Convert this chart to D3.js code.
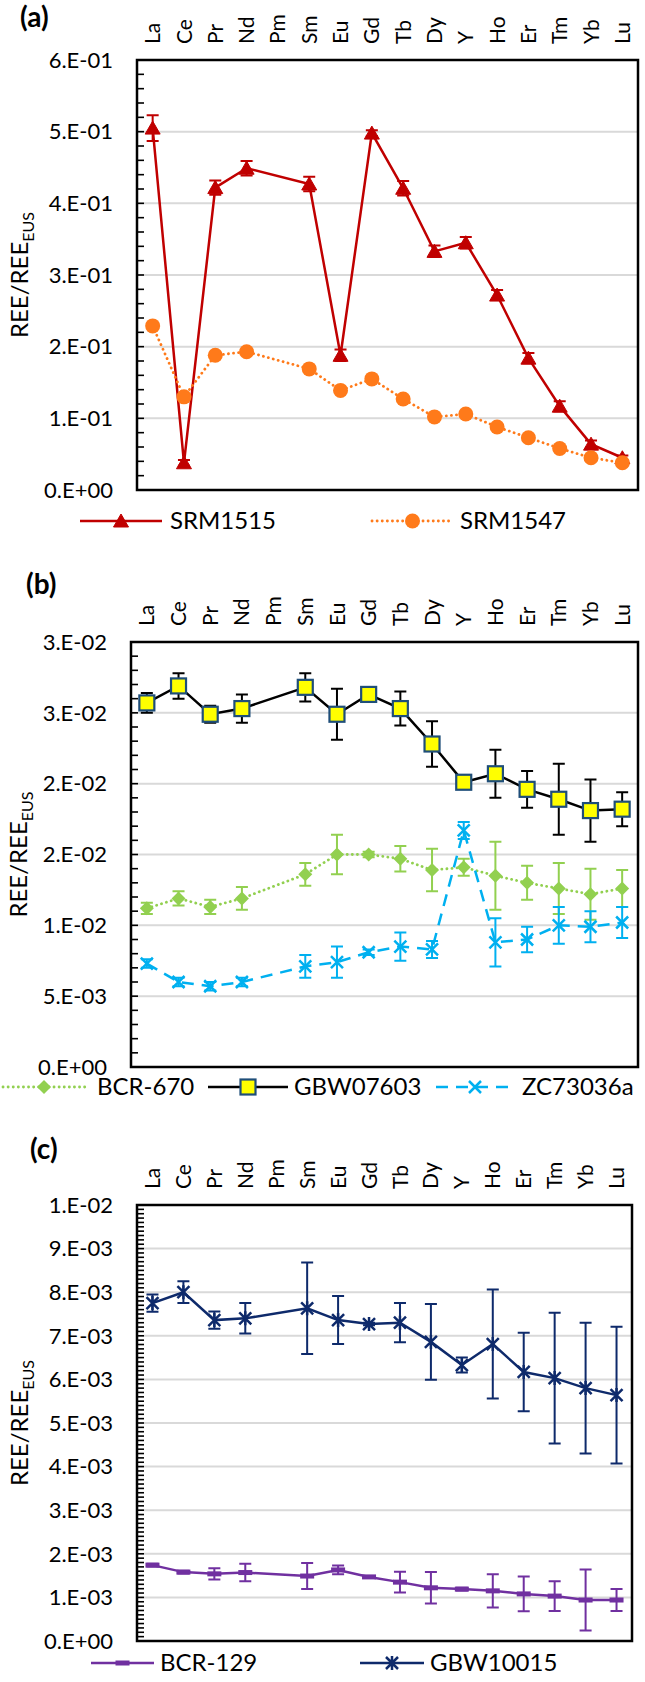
<!DOCTYPE html>
<html><head><meta charset="utf-8">
<script src="https://cdn.jsdelivr.net/npm/d3@7/dist/d3.min.js"></script>
<style>
body{margin:0;background:#fff}
svg{display:block}
text{font-family:Lato,"Open Sans",sans-serif;fill:#000}
</style>
</head><body>
<svg id="chart" width="645" height="1682"></svg>
<script>
// ---------------- DATA ----------------
const categories = ["La","Ce","Pr","Nd","Pm","Sm","Eu","Gd","Tb","Dy","Y","Ho","Er","Tm","Yb","Lu"];

// Panel (a)
const srm1515    = [0.505,0.038,0.422,0.449,null,0.427,0.188,0.498,0.421,0.333,0.345,0.272,0.184,0.117,0.064,0.045];
const srm1515Err = [0.018,0.004,0.010,0.010,null,0.010,0.008,0.004,0.010,0.008,0.008,0.007,0.007,0.007,0.005,0.003];
const srm1547    = [0.229,0.130,0.188,0.193,null,0.169,0.139,0.155,0.127,0.102,0.106,0.088,0.073,0.058,0.045,0.038];
const srm1547Err = [0.003,0.003,0.003,0.003,null,0.003,0.003,0.003,0.003,0.003,0.003,0.003,0.003,0.003,0.003,0.003];
const ticksA      = [0,0.1,0.2,0.3,0.4,0.5,0.6];
const tickLabelsA = ["0.E+00","1.E-01","2.E-01","3.E-01","4.E-01","5.E-01","6.E-01"];

// Panel (b)
const bcr670       = [0.0112,0.0119,0.0113,0.0119,null,0.0136,0.0150,0.0150,0.0147,0.0139,0.0141,0.0135,0.0130,0.0126,0.0122,0.0126];
const bcr670Err    = [0.0004,0.0005,0.0005,0.0008,null,0.0008,0.0014,0.0002,0.0009,0.0015,0.0006,0.0024,0.0012,0.0018,0.0018,0.0013];
const gbw07603     = [0.0257,0.0269,0.0249,0.0253,null,0.0268,0.0249,0.0263,0.0253,0.0228,0.0201,0.0207,0.0196,0.0189,0.0181,0.0182];
const gbw07603Err  = [0.0007,0.0009,0.0006,0.0010,null,0.0010,0.0018,0.0003,0.0012,0.0016,0.0003,0.0017,0.0013,0.0025,0.0022,0.0012];
const zc73036a     = [0.0073,0.0060,0.0057,0.0060,null,0.0071,0.0074,0.0081,0.0085,0.0083,0.0167,0.0088,0.0090,0.0100,0.0099,0.0102];
const zc73036aErr  = [0.0003,0.0003,0.0003,0.0003,null,0.0008,0.0011,0.0002,0.0010,0.0006,0.0006,0.0017,0.0009,0.0013,0.0011,0.0011];
const ticksB      = [0,0.005,0.01,0.015,0.02,0.025,0.03];
const tickLabelsB = ["0.E+00","5.E-03","1.E-02","2.E-02","2.E-02","3.E-02","3.E-02"];

// Panel (c)
const bcr129       = [0.00174,0.00158,0.00154,0.00157,null,0.00149,0.00163,0.00147,0.00135,0.00122,0.00119,0.00115,0.00108,0.00103,0.00094,0.00094];
const bcr129Err    = [0.00003,0.00003,0.00013,0.00020,null,0.00030,0.00010,0.00002,0.00024,0.00036,0.00003,0.00038,0.00040,0.00034,0.00070,0.00025];
const gbw10015     = [0.00775,0.00800,0.00736,0.00740,null,0.00763,0.00736,0.00727,0.00730,0.00686,0.00633,0.00681,0.00617,0.00603,0.00580,0.00564];
const gbw10015Err  = [0.00020,0.00025,0.00020,0.00035,null,0.00105,0.00055,0.00003,0.00045,0.00087,0.00017,0.00125,0.00090,0.00150,0.00150,0.00157];
const ticksC      = [0,0.001,0.002,0.003,0.004,0.005,0.006,0.007,0.008,0.009,0.01];
const tickLabelsC = ["0.E+00","1.E-03","2.E-03","3.E-03","4.E-03","5.E-03","6.E-03","7.E-03","8.E-03","9.E-03","1.E-02"];

// ---------------- DRAWING ----------------
const svg = d3.select("#chart");

function drawMarker(g, type, color, x, y) {
  const m = g.append("g").attr("transform", `translate(${x},${y})`);
  if (type === "triangle") {
    m.append("path").attr("d","M0,-7L7.5,6L-7.5,6Z").attr("fill",color).attr("stroke",color).attr("stroke-width",1);
  } else if (type === "circle") {
    m.append("circle").attr("r",7.5).attr("fill",color);
  } else if (type === "square") {
    m.append("rect").attr("x",-7.5).attr("y",-7.5).attr("width",15).attr("height",15)
      .attr("fill","#FFFF00").attr("stroke","#1F4E79").attr("stroke-width",2.2);
  } else if (type === "diamond") {
    m.append("path").attr("d","M0,-7L7,0L0,7L-7,0Z").attr("fill",color);
  } else if (type === "x") {
    m.append("path").attr("d","M-6,-6L6,6M-6,6L6,-6").attr("stroke",color).attr("stroke-width",2.5).attr("fill","none");
  } else if (type === "star") {
    m.append("path").attr("d","M-6,-6L6,6M-6,6L6,-6M0,-7L0,7").attr("stroke",color).attr("stroke-width",2.5).attr("fill","none");
  } else if (type === "dash") {
    m.append("rect").attr("x",-7).attr("y",-2.5).attr("width",14).attr("height",5).attr("fill",color);
  }
}

function drawPanel(p) {
  const g = svg.append("g");
  const x = d3.scaleBand().domain(categories).range([p.left, p.right]).padding(0);
  const y = d3.scaleLinear().domain([0, p.max]).range([p.bottom, p.top]);
  const cx = c => x(c) + x.bandwidth() / 2;

  // gridlines
  g.append("g").selectAll("line").data(p.ticks.filter(t => t > 0 && t < p.max - 1e-12)).join("line")
    .attr("x1", p.left).attr("x2", p.right)
    .attr("y1", d => y(d)).attr("y2", d => y(d))
    .attr("stroke", "#D9D9D9").attr("stroke-width", 2);

  // minor ticks (inside)
  const nMinor = Math.round(p.max / p.minor);
  const minors = d3.range(0, nMinor + 1).map(i => i * p.minor);
  g.append("g").selectAll("line").data(minors).join("line")
    .attr("x1", p.left).attr("x2", p.left + 7)
    .attr("y1", d => y(d)).attr("y2", d => y(d))
    .attr("stroke", "#000").attr("stroke-width", 1.6);

  // y tick labels
  g.append("g").selectAll("text").data(p.ticks).join("text")
    .attr("x", p.left - 24).attr("y", d => y(d))
    .attr("text-anchor", "end").attr("dy", "0.35em")
    .attr("font-size", 22)
    .text((d, i) => p.tickLabels[i]);

  // category labels (rotated, above plot)
  g.append("g").selectAll("text").data(categories).join("text")
    .attr("transform", d => `translate(${cx(d)},${p.top - 16}) rotate(-90)`)
    .attr("dy", "0.36em").attr("text-anchor", "start")
    .attr("font-size", 21)
    .text(d => d);

  // axis title
  const t = g.append("text")
    .attr("transform", `translate(${p.titleX},${(p.top + p.bottom) / 2}) rotate(-90)`)
    .attr("text-anchor", "middle").attr("font-size", 24);
  t.append("tspan").text("REE/REE");
  t.append("tspan").attr("font-size", 16).attr("dy", 6).text("EUS");

  // panel label
  g.append("text").attr("x", p.labelX).attr("y", p.labelY)
    .attr("font-size", 28).attr("font-weight", "bold").text(p.label);

  // series
  p.series.forEach(s => {
    const pts = categories.map((c, i) => ({c, v: s.values[i], e: s.errors[i]})).filter(d => d.v !== null);
    const sg = g.append("g");
    sg.append("path").datum(pts)
      .attr("d", d3.line().x(d => cx(d.c)).y(d => y(d.v)))
      .attr("fill", "none").attr("stroke", s.lineColor).attr("stroke-width", s.lineWidth || 2.5)
      .attr("stroke-dasharray", s.dash || null).attr("stroke-linecap", s.cap || "butt");
    const eb = sg.append("g").attr("stroke", s.errColor).attr("stroke-width", 2).attr("fill", "none");
    pts.forEach(d => {
      const X = cx(d.c), y1 = y(d.v + d.e), y2 = y(d.v - d.e);
      eb.append("path").attr("d", `M${X},${y1}L${X},${y2}M${X - 6},${y1}L${X + 6},${y1}M${X - 6},${y2}L${X + 6},${y2}`);
    });
    pts.forEach(d => drawMarker(sg, s.marker, s.markerColor, cx(d.c), y(d.v)));
  });

  // frame
  g.append("rect").attr("x", p.left).attr("y", p.top)
    .attr("width", p.right - p.left).attr("height", p.bottom - p.top)
    .attr("fill", "none").attr("stroke", "#000").attr("stroke-width", 2.5);

  // legend
  const lg = g.append("g");
  p.series.forEach((s, i) => {
    const L = p.legend[i];
    lg.append("line").attr("x1", L.x0).attr("x2", L.x1).attr("y1", p.legendY).attr("y2", p.legendY)
      .attr("stroke", s.lineColor).attr("stroke-width", s.lineWidth || 2.5)
      .attr("stroke-dasharray", s.dash || null).attr("stroke-linecap", s.cap || "butt");
    drawMarker(lg, s.marker, s.markerColor, (L.x0 + L.x1) / 2, p.legendY);
    lg.append("text").attr("x", L.tx).attr("y", p.legendY).attr("dy", "0.35em")
      .attr("font-size", 24).text(s.name);
  });
}

drawPanel({
  label: "(a)", labelX: 20, labelY: 27,
  left: 137, right: 638, top: 60, bottom: 490, max: 0.6, minor: 0.02,
  ticks: ticksA, tickLabels: tickLabelsA, titleX: 28,
  legendY: 521,
  legend: [{x0: 80, x1: 162, tx: 170}, {x0: 372, x1: 453, tx: 460}],
  series: [
    {name: "SRM1515", values: srm1515, errors: srm1515Err, lineColor: "#C00000", errColor: "#C00000",
     marker: "triangle", markerColor: "#C00000"},
    {name: "SRM1547", values: srm1547, errors: srm1547Err, lineColor: "#FF7A1A", errColor: "#FF7A1A",
     marker: "circle", markerColor: "#FF7A1A", dash: "0.1,5", cap: "round", lineWidth: 2.8}
  ]
});

drawPanel({
  label: "(b)", labelX: 26, labelY: 594,
  left: 131, right: 638, top: 642, bottom: 1067, max: 0.03, minor: 0.001,
  ticks: ticksB, tickLabels: tickLabelsB, titleX: 27,
  legendY: 1087,
  legend: [{x0: 3, x1: 85, tx: 97}, {x0: 208, x1: 288, tx: 294}, {x0: 436, x1: 514, tx: 522}],
  series: [
    {name: "BCR-670", values: bcr670, errors: bcr670Err, lineColor: "#92D050", errColor: "#92D050",
     marker: "diamond", markerColor: "#92D050", dash: "0.1,5", cap: "round", lineWidth: 2.8},
    {name: "GBW07603", values: gbw07603, errors: gbw07603Err, lineColor: "#000000", errColor: "#000000",
     marker: "square", markerColor: "#FFFF00"},
    {name: "ZC73036a", values: zc73036a, errors: zc73036aErr, lineColor: "#00B0F0", errColor: "#00B0F0",
     marker: "x", markerColor: "#00B0F0", dash: "12,8"}
  ]
});

drawPanel({
  label: "(c)", labelX: 30, labelY: 1159,
  left: 137, right: 632, top: 1205, bottom: 1641, max: 0.01, minor: 0.0001,
  ticks: ticksC, tickLabels: tickLabelsC, titleX: 28,
  legendY: 1663,
  legend: [{x0: 91, x1: 154, tx: 160}, {x0: 360, x1: 424, tx: 430}],
  series: [
    {name: "BCR-129", values: bcr129, errors: bcr129Err, lineColor: "#7030A0", errColor: "#7030A0",
     marker: "dash", markerColor: "#7030A0"},
    {name: "GBW10015", values: gbw10015, errors: gbw10015Err, lineColor: "#0E2A6B", errColor: "#0E2A6B",
     marker: "star", markerColor: "#0E2A6B"}
  ]
});
</script>
</body></html>
